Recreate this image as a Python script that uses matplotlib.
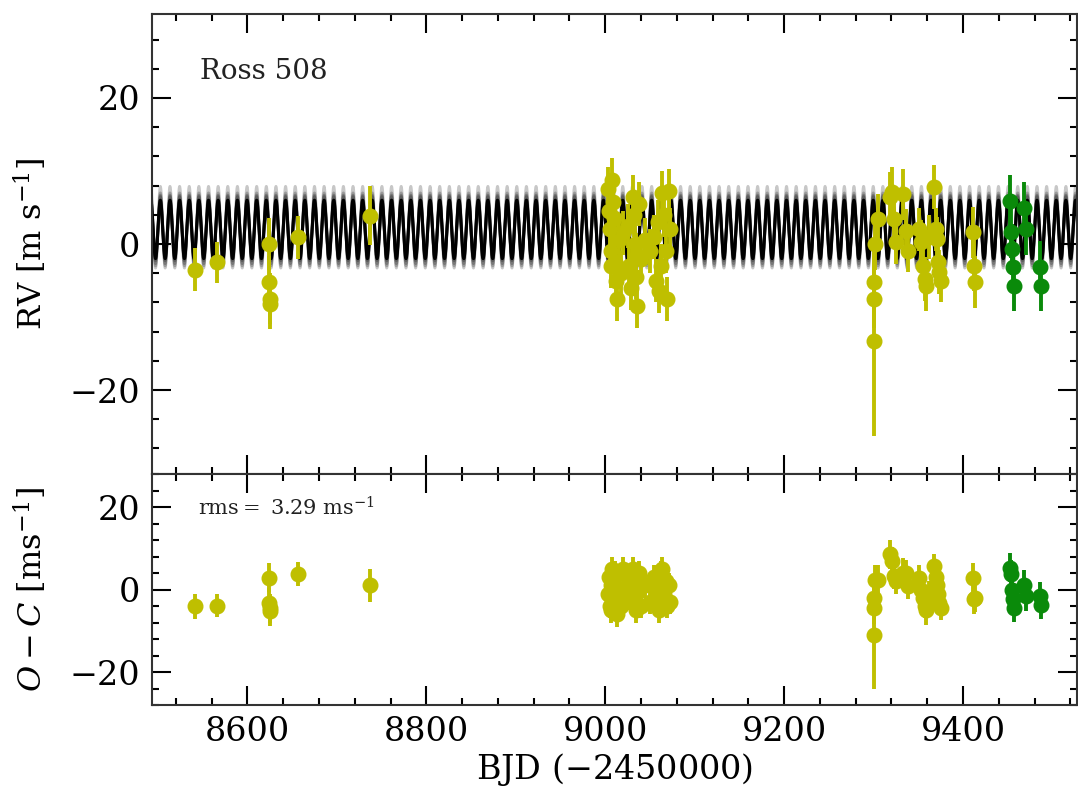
import numpy as np
import matplotlib
matplotlib.use("Agg")
import matplotlib.pyplot as plt

# --- data (BJD - 2450000, m/s) ---
t_y = [8541, 8566, 8624, 8624.5, 8625, 8625.5, 8657, 8737,
       9003, 9004, 9005, 9006, 9007, 9008, 9009, 9010, 9011, 9012, 9013,
       9016, 9018, 9020, 9025, 9027, 9029, 9031, 9032, 9033, 9034, 9035,
       9036, 9038, 9040, 9045, 9050, 9055, 9057, 9059, 9060, 9062, 9064,
       9066, 9068, 9069, 9071, 9073,
       9300, 9300.5, 9301, 9302, 9305, 9318, 9321, 9323, 9325, 9333,
       9336, 9338, 9351, 9353, 9355, 9357, 9359, 9362, 9368, 9370, 9371,
       9372, 9373, 9375, 9411, 9412, 9413]
rv_y = [-3.5, -2.5, 0.0, -5.2, -7.5, -8.2, 0.9, 3.9,
        7.5, 4.5, 2.0, -1.0, -3.0, 8.8, 5.8, 3.5, -2.5, -5.0, -7.5,
        0.5, -4.0, 1.5, 2.5, -3.0, -6.0, 6.5, 4.0, 0.0, -1.5, -4.5,
        -8.5, 5.5, -2.0, 0.5, -1.0, 1.0, -5.0, 3.0, -6.5, -3.0, 7.0,
        4.0, -1.0, -7.5, 7.3, 2.0,
        -13.3, -7.5, -5.2, 0.0, 3.4, 6.4, 7.1, 3.4, 0.3, 6.8,
        1.8, -0.9, 2.0, 0.3, -3.0, -4.8, -5.7, 1.0, 7.8, 2.0, 0.7,
        -2.5, -3.8, -5.0, 1.6, -3.0, -5.2]
err_y = [3.0, 2.8, 3.5, 3.5, 3.5, 3.5, 2.9, 4.0,
         3.0, 3.0, 3.0, 3.0, 3.0, 3.0, 3.0, 3.0, 3.0, 3.0, 3.0,
         3.0, 3.0, 3.0, 3.0, 3.0, 3.0, 3.0, 3.0, 3.0, 3.0, 3.0,
         3.0, 3.0, 3.0, 3.0, 3.0, 3.0, 3.0, 3.0, 3.0, 3.0, 3.0,
         3.0, 3.0, 3.0, 3.0, 3.0,
         13.0, 4.0, 4.0, 3.5, 3.5, 3.5, 3.5, 3.0, 3.0, 3.5,
         3.0, 3.0, 3.0, 3.0, 3.0, 3.0, 3.5, 3.0, 3.0, 3.0, 3.0,
         3.0, 3.0, 3.0, 3.5, 3.5, 3.5]
oc_y = [-4.1, -3.9, 2.9, -3.2, -4.5, -5.3, 3.7, 1.0,
        -1.0, 3.0, -4.0, 1.0, -5.0, 5.0, 2.0, -2.0, 4.0, -3.0, -6.0,
        0.0, -4.0, 5.0, 2.0, -2.0, 1.0, 5.0, -3.0, 3.0, -1.0, -5.0,
        0.0, 4.0, -4.0, 1.0, -3.0, 3.0, -2.0, 0.0, -5.0, 4.0, 5.0,
        -1.0, 2.0, -4.0, 1.0, -3.0,
        -11.0, -4.4, -2.0, 2.4, 2.4, 8.5, 6.8, 3.2, 2.0, 4.1,
        4.1, 0.8, 2.9, 0.0, -2.0, -4.0, -5.0, -1.0, 5.7, 3.0, 1.0,
        -1.0, -3.2, -4.5, 2.9, -2.4, -2.0]

t_g = [9453, 9454, 9455, 9456, 9457, 9468, 9470, 9486, 9487]
rv_g = [5.9, 1.6, -0.7, -3.1, -5.7, 5.0, 2.0, -3.1, -5.7]
err_g = [3.5, 3.5, 3.5, 3.5, 3.5, 3.5, 3.5, 3.5, 3.5]
oc_g = [5.3, 3.7, 0.0, -2.4, -4.4, 1.2, -1.6, -1.6, -3.7]

# Keplerian model (circular approx.)
P_b = 10.77
K_b = 4.0
gamma = 2.0
T0 = 8500.0

xlim = (8493, 9528)

plt.rcParams['font.family'] = ['DejaVu Serif']
plt.rcParams['mathtext.fontset'] = 'dejavuserif'

fig = plt.figure(figsize=(10.78, 7.96), dpi=100)
gs = fig.add_gridspec(2, 1, height_ratios=[460, 231], hspace=0,
                      left=0.1407, right=0.9995, top=0.9824, bottom=0.1143)
ax1 = fig.add_subplot(gs[0])
ax2 = fig.add_subplot(gs[1], sharex=ax1)

tm = np.linspace(xlim[0], xlim[1], 30000)
for dk, dg in [(1.3, 0.6), (-1.1, -0.6), (0.9, -0.4), (-0.7, 0.5), (0.5, 0.2), (-0.4, -0.2),
               (1.0, 0.0), (-0.9, 0.1)]:
    ax1.plot(tm, gamma + dg + (K_b + dk) * np.sin(2 * np.pi * (tm - T0) / P_b),
             color='k', lw=2.0, alpha=0.22, zorder=1)
ax1.plot(tm, gamma + K_b * np.sin(2 * np.pi * (tm - T0) / P_b), color='k', lw=2.2, zorder=2)

kw = dict(fmt='o', ms=10.5, elinewidth=2.8, capsize=0, zorder=3)
ax1.errorbar(t_y, rv_y, yerr=err_y, color='#bfbf00', **kw)
ax1.errorbar(t_g, rv_g, yerr=err_g, color='#0a8a0a', **kw)
ax2.errorbar(t_y, oc_y, yerr=err_y, color='#bfbf00', **kw)
ax2.errorbar(t_g, oc_g, yerr=err_g, color='#0a8a0a', **kw)

ax1.set_xlim(*xlim)
ax1.set_ylim(-31.5, 31.5)
ax2.set_ylim(-28, 28)

for ax in (ax1, ax2):
    ax.set_yticks([-20, 0, 20])
    ax.yaxis.set_minor_locator(matplotlib.ticker.MultipleLocator(4))
    ax.xaxis.set_major_locator(matplotlib.ticker.MultipleLocator(200))
    ax.xaxis.set_minor_locator(matplotlib.ticker.MultipleLocator(40))
    ax.tick_params(which='both', direction='in', top=True, right=True, width=1.5)
    ax.tick_params(which='major', length=14, labelsize=24, pad=8)
    ax.tick_params(which='minor', length=5)
    for s in ax.spines.values():
        s.set_linewidth(1.5)
        s.set_color('#333333')

ax1.tick_params(labelbottom=False)

ax1.set_ylabel(r'RV [m s$^{-1}$]', fontsize=23)
ax2.set_ylabel(r'$O-C$ [ms$^{-1}$]', fontsize=23)
ax1.yaxis.set_label_coords(-0.11, 0.5)
ax2.yaxis.set_label_coords(-0.11, 0.5)
ax2.set_xlabel(r'BJD ($-$2450000)', fontsize=24, labelpad=2)

ax1.text(0.052, 0.859, 'Ross 508', transform=ax1.transAxes, fontsize=20, color='#222222')
ax2.text(0.05, 0.82, r'rms$=$ 3.29 ms$^{-1}$', transform=ax2.transAxes, fontsize=15, color='#222222')

fig.savefig('out.png', dpi=100)
